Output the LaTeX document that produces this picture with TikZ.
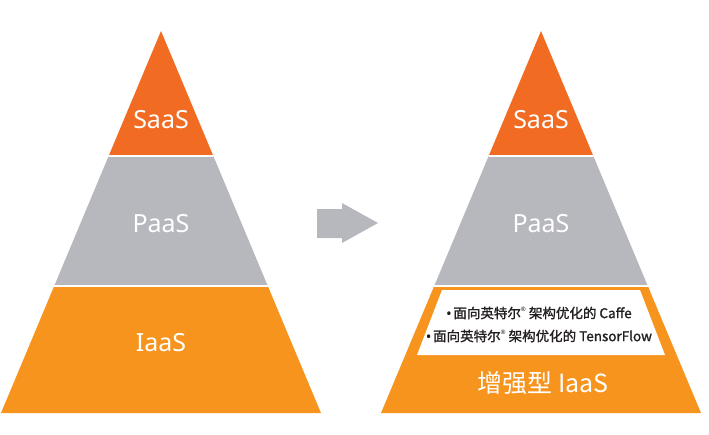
\documentclass[tikz,border=0pt]{standalone}
\usepackage{fontspec}
\setmainfont{Noto Sans}
\newfontfamily\cjk{Noto Sans CJK SC}
\newfontfamily\cjkheavy{Noto Sans CJK SC}[FakeBold=1.3]
\usepackage{tikz}
\usetikzlibrary{positioning}

\definecolor{saasorange}{HTML}{F26B22}
\definecolor{paasgray}{HTML}{B7B8BE}
\definecolor{iaasorange}{HTML}{F7941D}
\definecolor{bodytext}{HTML}{231F20}

\newcommand{\dotmark}{{\fontspec{Noto Sans}[FakeBold=1.3]•}\hspace{0.15em}}
\newcommand{\regmark}{\raisebox{0.5em}{\fontspec{Noto Sans}\fontsize{6}{6}\selectfont ®}}

\begin{document}
\begin{tikzpicture}[x=1pt, y=-1pt,
    layer/.style={text=white, font=\fontsize{25}{25}\selectfont},
    bullet/.style={text=bodytext, font=\cjkheavy\fontsize{13.5}{13.5}\selectfont}]
  \useasboundingbox (0,0) rectangle (709,434);
  % two pyramids: bands clipped to the triangle, white lines between them
  \foreach \cx/\n in {161/L, 541/R} {
    \begin{scope}
      \clip (\cx,31) -- (\cx-160,413) -- (\cx+160,413) -- cycle;
      \fill[saasorange] (\cx-170,25) rectangle (\cx+170,156);
      \fill[paasgray] (\cx-170,156) rectangle (\cx+170,286);
      \fill[iaasorange] (\cx-170,286) rectangle (\cx+170,420);
      \draw[white, line width=2.5pt] (\cx-170,156) -- (\cx+170,156);
      \draw[white, line width=2.5pt] (\cx-170,286) -- (\cx+170,286);
    \end{scope}
    \node[layer] (saas\n) at (\cx,120) {SaaS};
    \node[layer] (paas\n) at (\cx,224) {PaaS};
  }
  \node[layer] (iaasL) at (161,343) {IaaS};
  % white box inside the enhanced IaaS band
  \fill[white] (442,290) -- (640,290) -- (665,355) -- (417,355) -- cycle;
  \node[bullet] (caffe) at (539,313) {\dotmark 面向英特尔\regmark\ 架构优化的 Caffe};
  \node[bullet] (tflow) at (539,336) {\dotmark 面向英特尔\regmark\ 架构优化的 TensorFlow};
  \node[layer, font=\cjk\fontsize{25}{25}\selectfont] (iaasR) at (543,383) {增强型 IaaS};
  % grey arrow between the pyramids
  \fill[paasgray] (317,209) -- (342,209) -- (342,203) -- (378,223) -- (342,243)
    -- (342,238) -- (317,238) -- cycle;
\end{tikzpicture}
\end{document}
